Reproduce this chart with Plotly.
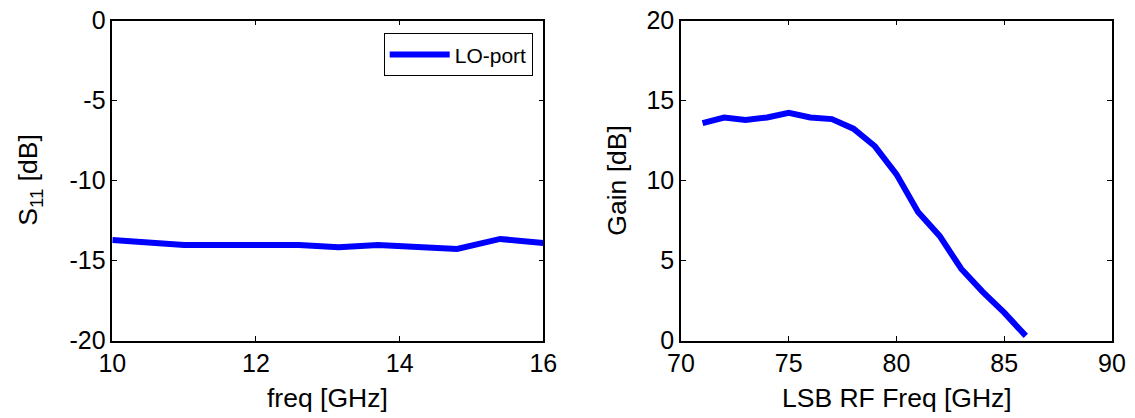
import plotly.graph_objects as go

# Left panel: S11 of LO port
s11_freq = [10, 10.55, 11.0, 11.6, 12.1, 12.6, 13.15, 13.7, 14.25, 14.8, 15.4, 16]
s11_db = [-13.7, -13.85, -14.02, -14.02, -14.02, -14.02, -14.16, -14.02, -14.15, -14.27, -13.64, -13.9]
s11_ticks = [0, -5, -10, -15, -20]
s11_ticklabels = ["0", "-5", "-10", "-15", "-20"]
s11_xticks = [10, 12, 14, 16]

# Right panel: conversion gain vs LSB RF frequency
rf_freq = [71, 72, 73, 74, 75, 76, 77, 78, 79, 80, 81, 82, 83, 84, 85, 86]
gain_db = [13.6, 13.95, 13.8, 13.95, 14.25, 13.95, 13.85, 13.25, 12.15, 10.4, 8.05, 6.55, 4.5, 3.05, 1.75, 0.3]
gain_ticks = [0, 5, 10, 15, 20]
rf_xticks = [70, 75, 80, 85, 90]

W, H = 1135, 418
FONT = "Arial, Liberation Sans, sans-serif"
BLUE = "#0000FF"

fig = go.Figure()
fig.add_trace(go.Scatter(x=s11_freq, y=s11_db, mode="lines", name="LO-port",
                         line=dict(color=BLUE, width=6), xaxis="x", yaxis="y"))
fig.add_trace(go.Scatter(x=rf_freq, y=gain_db, mode="lines", name="Gain",
                         line=dict(color=BLUE, width=6), xaxis="x2", yaxis="y2",
                         showlegend=False))

ydom = [(H - 340.7) / H, (H - 20.7) / H]
axcommon = dict(showline=True, linecolor="black", linewidth=1.5, mirror="ticks",
                ticks="inside", ticklen=5, tickwidth=1, tickcolor="black",
                showgrid=False, zeroline=False, automargin=False,
                tickfont=dict(family=FONT, size=25, color="black"))

fig.update_layout(
    width=W, height=H,
    margin=dict(l=0, r=0, t=0, b=0, autoexpand=False),
    paper_bgcolor="white", plot_bgcolor="white",
    xaxis=dict(domain=[112.3 / W, 543.3 / W], range=[10, 16], tickvals=s11_xticks,
               anchor="y", **axcommon),
    yaxis=dict(domain=ydom, range=[-20, 0], tickvals=s11_ticks, ticktext=s11_ticklabels,
               anchor="x", **axcommon),
    xaxis2=dict(domain=[681 / W, 1112 / W], range=[70, 90], tickvals=rf_xticks,
                anchor="y2", **axcommon),
    yaxis2=dict(domain=ydom, range=[0, 20], tickvals=gain_ticks,
                anchor="x2", **axcommon),
    showlegend=True,
    legend=dict(x=532.7 / W, y=(H - 33.3) / H, xanchor="right", yanchor="top",
                bgcolor="white", bordercolor="black", borderwidth=1,
                font=dict(family=FONT, size=21, color="black"),
                itemwidth=60, tracegroupgap=0),
)

ann = dict(xref="paper", yref="paper", showarrow=False,
           font=dict(family=FONT, size=26.5, color="black"))
fig.add_annotation(text="freq [GHz]", x=(112.3 + 543.3) / 2 / W, y=(H - 398) / H,
                   xanchor="center", yanchor="middle", **ann)
fig.add_annotation(text="LSB RF Freq [GHz]", x=(681 + 1112) / 2 / W, y=(H - 398) / H,
                   xanchor="center", yanchor="middle", **ann)
fig.add_annotation(text="S<sub>11</sub> [dB]", x=30 / W, y=(H - 180.7) / H, textangle=-90,
                   xanchor="center", yanchor="middle", **ann)
fig.add_annotation(text="Gain [dB]", x=617 / W, y=(H - 180.7) / H, textangle=-90,
                   xanchor="center", yanchor="middle", **ann)

fig.write_html("out.html", config={"displayModeBar": False},
               post_script="document.body.style.margin='0';document.body.style.overflow='hidden';")
